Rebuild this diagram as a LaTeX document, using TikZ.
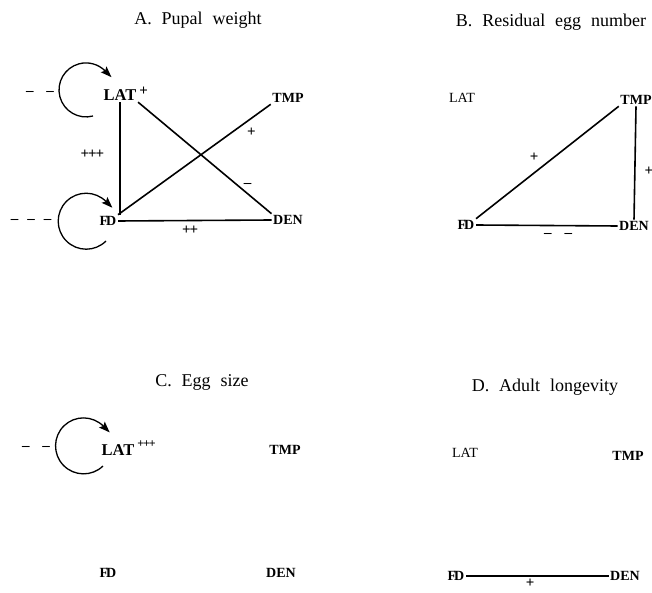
\documentclass[tikz,border=0pt]{standalone}
\usepackage{fontspec}
\setmainfont{Liberation Serif}
\newfontfamily\headfont[WordSpace=2.2]{Liberation Serif}
\usetikzlibrary{arrows.meta}
\newcommand{\dgap}{\hspace{13pt}}
\newcommand{\FD}{F\kern-2pt D}

\begin{document}
\begin{tikzpicture}[x=1pt,y=1pt,>={Stealth[length=11pt,width=8pt,inset=2pt]},
  title/.style={font=\headfont\fontsize{18}{21}\selectfont},
  var/.style={font=\bfseries\fontsize{14}{16}\selectfont,inner sep=1.5pt},
  mainvar/.style={font=\bfseries\fontsize{16.5}{19}\selectfont,inner sep=1.5pt},
  plainvar/.style={font=\fontsize{14}{16}\selectfont,inner sep=1.5pt},
  sign/.style={font=\bfseries\fontsize{15}{17}\selectfont,inner sep=1pt},
  supsign/.style={font=\bfseries\fontsize{12}{14}\selectfont,inner sep=1pt},
  link/.style={line width=1.6pt},
  selfloop/.style={line width=1.3pt,->,shorten >=-9pt}]
\useasboundingbox (0,0) rectangle (652,592);
% A. Pupal weight
\node[title] (aTitle) at (198,572) {A. Pupal weight};
\node[mainvar,label={[sign,yshift=4pt]east:+}] (aLAT) at (120,497) {LAT};
\node[var] (aTMP) at (288,494) {TMP};
\node[var] (aFD) at (108,371) {\FD};
\node[var] (aDEN) at (288,372) {DEN};
\draw[link] (aLAT.south) -- node[sign,pos=0.46,left=14pt] (aLATFD) {+\kern-1pt+\kern-1pt+} (aLAT.south |- aFD.north);
\draw[link] (aLAT.south east) -- node[sign,pos=0.78,above right] (aLATDEN) {–} (aDEN.north west);
\draw[link] (aFD.north east) -- node[sign,pos=0.82,below right=2pt] (aFDTMP) {+} (aTMP.south west);
\draw[link] (aFD.east) -- node[sign,pos=0.47,below=4pt] (aFDDEN) {+\kern-1pt+} (aDEN.west);
\draw[selfloop] (93,476) arc[start angle=-75,end angle=-315,radius=27];
\draw[selfloop] (106,351) arc[start angle=-45,end angle=-315,radius=28];
\node[sign] (aLATneg) at (40,499) {–\dgap–};
\node[sign] (aFDneg) at (31,371) {–\hspace{9pt}–\hspace{9pt}–};
% B. Residual egg number
\node[title] (bTitle) at (551,570) {B. Residual egg number};
\node[plainvar] (bLAT) at (462,494) {LAT};
\node[var] (bTMP) at (636,492) {TMP};
\node[var] (bFD) at (466,367) {\FD};
\node[var] (bDEN) at (634,366) {DEN};
\draw[link] (bFD.north east) -- node[sign,pos=0.47,above left=3pt] (bFDTMP) {+} (bTMP.south west);
\draw[link] (bTMP.south) -- node[sign,pos=0.57,right=8pt] (bTMPDEN) {+} (bDEN.north);
\draw[link] (bFD.east) -- node[sign,pos=0.58,below=6pt] (bFDDEN) {–\dgap–} (bDEN.west);
% C. Egg size
\node[title] (cTitle) at (202,210) {C. Egg size};
\node[mainvar,label={[supsign,yshift=6pt]east:+\kern-1pt+\kern-1pt+}] (cLAT) at (118,142) {LAT};
\node[var] (cTMP) at (285,142) {TMP};
\node[var] (cFD) at (108,19) {\FD};
\node[var] (cDEN) at (281,19) {DEN};
\draw[selfloop] (103,126) arc[start angle=-46,end angle=-315,radius=28];
\node[sign] (cLATneg) at (36,144) {–\dgap–};
% D. Adult longevity
\node[title] (dTitle) at (545,205) {D. Adult longevity};
\node[plainvar] (dLAT) at (465,139) {LAT};
\node[var] (dTMP) at (628,136) {TMP};
\node[var] (dFD) at (456,16) {\FD};
\node[var] (dDEN) at (625,16) {DEN};
\draw[line width=1.2pt] (dFD.east) -- node[sign,pos=0.45,below=1pt] (dFDDEN) {+} (dDEN.west);
\end{tikzpicture}
\end{document}
